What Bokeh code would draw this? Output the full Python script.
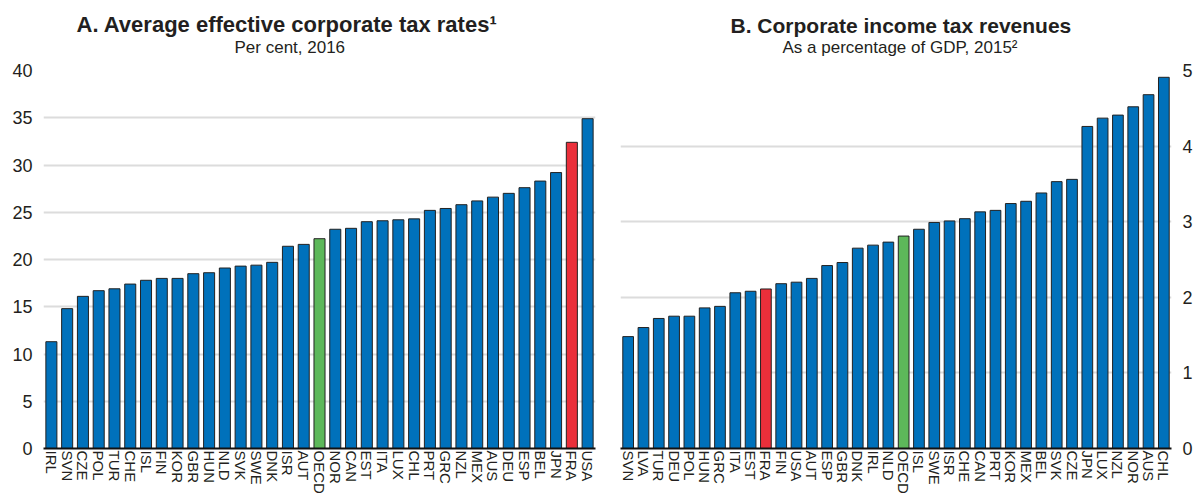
from bokeh.plotting import figure
from bokeh.models import FactorRange, Title, ColumnDataSource, Range1d, FixedTicker
from bokeh.layouts import row
from bokeh.embed import file_html
from bokeh.resources import INLINE

# Panel A: Average effective corporate tax rates, per cent, 2016
a_countries = ["IRL", "SVN", "CZE", "POL", "TUR", "CHE", "ISL", "FIN", "KOR", "GBR",
               "HUN", "NLD", "SVK", "SWE", "DNK", "ISR", "AUT", "OECD", "NOR", "CAN",
               "EST", "ITA", "LUX", "CHL", "PRT", "GRC", "NZL", "MEX", "AUS", "DEU",
               "ESP", "BEL", "JPN", "FRA", "USA"]
a_values = [11.3, 14.8, 16.1, 16.7, 16.9, 17.4, 17.8, 18.0, 18.0, 18.5,
            18.6, 19.1, 19.3, 19.4, 19.7, 21.4, 21.6, 22.2, 23.2, 23.3,
            24.0, 24.1, 24.2, 24.3, 25.2, 25.4, 25.8, 26.2, 26.6, 27.0,
            27.6, 28.3, 29.2, 32.4, 34.9]

# Panel B: Corporate income tax revenues, % of GDP, 2015
b_countries = ["SVN", "LVA", "TUR", "DEU", "POL", "HUN", "GRC", "ITA", "EST", "FRA",
               "FIN", "USA", "AUT", "ESP", "GBR", "DNK", "IRL", "NLD", "OECD", "ISL",
               "SWE", "ISR", "CHE", "CAN", "PRT", "KOR", "MEX", "BEL", "SVK", "CZE",
               "JPN", "LUX", "NZL", "NOR", "AUS", "CHL"]
b_values = [1.48, 1.60, 1.72, 1.75, 1.75, 1.86, 1.88, 2.06, 2.08, 2.11,
            2.18, 2.20, 2.25, 2.42, 2.46, 2.65, 2.69, 2.73, 2.81, 2.90,
            2.99, 3.01, 3.04, 3.13, 3.15, 3.24, 3.27, 3.38, 3.53, 3.56,
            4.26, 4.37, 4.41, 4.52, 4.68, 4.91]

a_ticks = [0, 5, 10, 15, 20, 25, 30, 35, 40]
b_ticks = [0, 1, 2, 3, 4, 5]

BLUE = "#0071BB"
GREEN = "#5DB85A"
RED = "#EA2F3A"
FONT = "Liberation Sans"
TXT = "#231F20"


def colour(c):
    if c == "OECD":
        return GREEN
    if c == "FRA":
        return RED
    return BLUE


def make_panel(countries, values, ticks, ymax, title, subtitle, yloc,
               frame_width, border_left, border_right, title_off, sub_off,
               title_size):
    src = ColumnDataSource(dict(x=countries, top=values,
                                color=[colour(c) for c in countries]))
    p = figure(x_range=FactorRange(*countries, range_padding=0),
               y_range=Range1d(0, ymax),
               frame_width=frame_width, frame_height=378,
               output_backend="svg", toolbar_location=None,
               y_axis_location=yloc,
               min_border_left=border_left, min_border_right=border_right,
               min_border_top=70, min_border_bottom=0)
    p.title = None
    p.add_layout(Title(text=subtitle, align="left", offset=sub_off, text_font=FONT,
                       text_font_size="17px", text_font_style="normal",
                       text_color=TXT, standoff=28), "above")
    p.add_layout(Title(text=title, align="left", offset=title_off, text_font=FONT,
                       text_font_size=title_size, text_font_style="bold",
                       text_color=TXT, standoff=-30), "above")
    p.vbar(x="x", top="top", width=0.7, source=src, fill_color="color",
           line_color="#222222", line_width=1)
    p.outline_line_color = None
    p.xgrid.grid_line_color = None
    p.ygrid.grid_line_color = "#DCDCDC"
    p.ygrid.grid_line_width = 2
    p.yaxis.ticker = FixedTicker(ticks=ticks)
    p.yaxis.axis_line_color = None
    p.yaxis.major_tick_line_color = None
    p.yaxis.minor_tick_line_color = None
    p.yaxis.major_label_text_font = FONT
    p.yaxis.major_label_text_font_size = "18px"
    p.yaxis.major_label_text_color = TXT
    p.yaxis.major_label_standoff = 5
    p.xaxis.axis_line_color = "#111111"
    p.xaxis.axis_line_width = 2
    p.xaxis.major_tick_line_color = None
    p.xaxis.major_tick_out = 0
    p.xaxis.major_label_orientation = "vertical"
    p.xaxis.major_label_text_font = FONT
    p.xaxis.major_label_text_font_size = "15px"
    p.xaxis.major_label_text_color = TXT
    p.xaxis.major_label_standoff = 2
    p.background_fill_color = "white"
    p.border_fill_color = "white"
    return p


pa = make_panel(a_countries, a_values, a_ticks, 40,
                "A. Average effective corporate tax rates\u00b9", "Per cent, 2016",
                "left", 552, 43, 13, 33, 191, "22px")
pb = make_panel(b_countries, b_values, b_ticks, 5,
                "B. Corporate income tax revenues", "As a percentage of GDP, 2015\u00b2",
                "right", 551, 12, 12, 110, 162, "21px")

layout = row(pa, pb)
open("out.html", "w").write(file_html(layout, INLINE))
